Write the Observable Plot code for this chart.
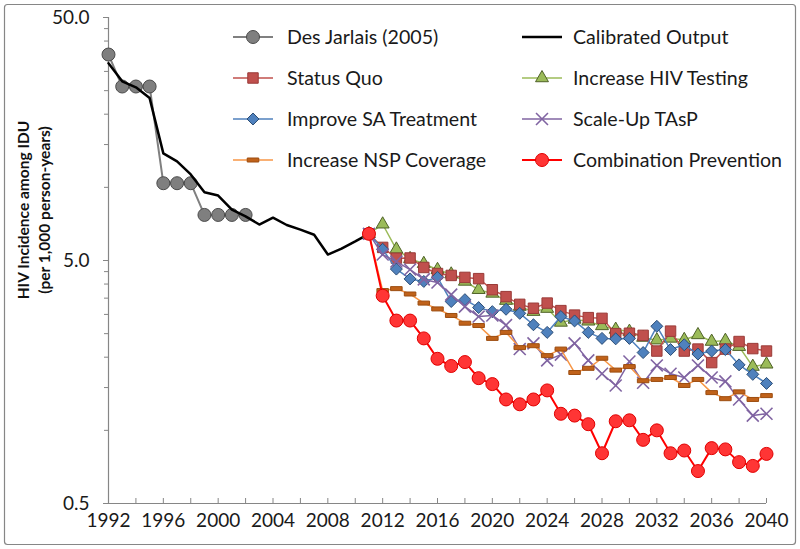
<!DOCTYPE html>
<html><head><meta charset="utf-8">
<script src="https://cdn.jsdelivr.net/npm/d3@7"></script>
<script src="https://cdn.jsdelivr.net/npm/@observablehq/plot@0.6"></script>
<style>
html,body{margin:0;padding:0;background:#fff;}
#chart{width:800px;height:549px;}
</style></head><body><div id="chart"></div>
<script>
// ---------- data ----------
const desJarlaisYears = [1992,1993,1994,1995,1996,1997,1998,1999,2000,2001,2002];
const desJarlais = [35.2,26.0,26.0,26.0,10.4,10.4,10.4,7.7,7.7,7.7,7.7];

const calibratedYears = [1992,1993,1994,1995,1996,1997,1998,1999,2000,2001,2002,2003,2004,2005,2006,2007,2008,2009,2010,2011];
const calibrated = [32.4,27.3,25.8,23.3,13.8,12.8,11.3,9.55,9.25,8.1,7.6,7.03,7.5,7.0,6.7,6.38,5.29,5.6,5.99,6.44];

const scenarioYears = [2011,2012,2013,2014,2015,2016,2017,2018,2019,2020,2021,2022,2023,2024,2025,2026,2027,2028,2029,2030,2031,2032,2033,2034,2035,2036,2037,2038,2039,2040];
const statusQuo   = [6.44,5.66,5.11,5.12,4.68,4.42,4.34,4.26,4.21,3.79,3.55,3.30,3.18,3.34,3.11,2.98,2.91,2.89,2.50,2.51,2.46,2.12,2.56,2.12,2.16,1.90,2.16,2.32,2.17,2.12];
const hivTesting  = [6.44,7.05,5.56,5.08,4.85,4.58,4.39,4.10,3.79,3.66,3.42,3.23,3.08,3.17,2.78,2.86,2.81,2.69,2.60,2.55,2.41,2.35,2.39,2.36,2.47,2.32,2.34,2.21,1.83,1.87];
const improveSA   = [6.44,5.56,4.61,4.20,4.10,4.26,3.39,3.45,3.20,3.08,3.15,3.03,2.72,2.53,2.94,2.82,2.53,2.39,2.38,2.39,2.09,2.68,2.15,2.25,2.06,2.12,2.15,1.86,1.70,1.56];
const scaleUpTAsP = [6.44,5.29,4.95,4.59,4.18,4.06,3.62,3.23,2.94,2.97,2.71,2.16,2.28,1.94,2.05,2.28,1.94,1.71,1.53,1.92,1.57,1.85,1.71,1.65,1.85,1.65,1.59,1.34,1.15,1.17];
const nspCoverage = [6.44,3.76,3.83,3.64,3.34,3.16,2.97,2.76,2.70,2.39,2.53,2.19,2.23,2.03,2.16,1.73,1.80,1.98,1.77,1.83,1.60,1.62,1.65,1.53,1.62,1.43,1.35,1.44,1.34,1.39];
const combination = [6.44,3.58,2.83,2.83,2.39,1.97,1.84,1.91,1.64,1.55,1.34,1.28,1.34,1.46,1.17,1.15,1.06,0.805,1.09,1.10,0.914,1.0,0.805,0.826,0.68,0.845,0.835,0.74,0.714,0.80];

const yMajorTicks = [0.5, 5, 50];
const yMinorTicks = [1,1.5,2,2.5,3,3.5,4,4.5,10,15,20,25,30,35,40,45];
const xLabelTicks = [1992,1996,2000,2004,2008,2012,2016,2020,2024,2028,2032,2036,2040];
const xTickMarks = [1992,1994,1996,1998,2000,2002,2004,2006,2008,2010,2012,2014,2016,2018,2020,2022,2024,2026,2028,2030,2032,2034,2036,2038,2040];

const legendNames = ["Des Jarlais (2005)","Calibrated Output","Status Quo","Increase HIV Testing","Improve SA Treatment","Scale-Up TAsP","Increase NSP Coverage","Combination Prevention"];

// ---------- styles ----------
const dash = { draw(ctx, size) { const w = Math.sqrt(size) * 1.25, h = 4; ctx.rect(-w/2, -h/2, w, h); } };
const styles = {
  "Des Jarlais (2005)":     {line:"#808080", width:2,   fill:"#7f7f7f", stroke:"#4a4a4a", symbol:d3.symbolCircle,   r:6.5},
  "Calibrated Output":      {line:"#000000", width:2.5},
  "Status Quo":             {line:"#C0504D", width:1.5, fill:"#C0504D", stroke:"#9a3b38", symbol:d3.symbolSquare,   r:5.9},
  "Increase HIV Testing":   {line:"#9BBB59", width:1.5, fill:"#9BBB59", stroke:"#4F6228", symbol:d3.symbolTriangle, r:4.8},
  "Improve SA Treatment":   {line:"#4F81BD", width:1.5, fill:"#4F81BD", stroke:"#2C4D75", symbol:d3.symbolDiamond2, r:5.4},
  "Scale-Up TAsP":          {line:"#8064A2", width:1.5, fill:"none",    stroke:"#8064A2", symbol:d3.symbolTimes,    r:5.5, sw:1.6},
  "Increase NSP Coverage":  {line:"#F79646", width:1.5, fill:"#C0621A", stroke:"#9c4d10", symbol:dash,              r:5.2},
  "Combination Prevention": {line:"#FF0000", width:2,   fill:"#FF3535", stroke:"#E00000", symbol:d3.symbolCircle,   r:6.5}
};

const toRows = (years, vals) => years.map((year, i) => ({year, value: vals[i]}));
const scenarioOrder = [
  ["Increase HIV Testing", hivTesting],
  ["Status Quo", statusQuo],
  ["Improve SA Treatment", improveSA],
  ["Scale-Up TAsP", scaleUpTAsP],
  ["Increase NSP Coverage", nspCoverage],
  ["Combination Prevention", combination]
];

const gray = "#868686";
const font = "Lato, 'Noto Sans', sans-serif";

const marks = [
  Plot.ruleX([1992], {stroke: gray, strokeWidth: 1.2}),
  Plot.ruleY([0.5], {stroke: gray, strokeWidth: 1.2}),
  Plot.axisY(yMinorTicks, {tickSize: 4, tickFormat: () => "", stroke: gray, label: null}),
  Plot.axisY(yMajorTicks, {tickSize: 5, tickPadding: 14, tickFormat: d3.format(".1f"), stroke: gray, fontSize: 19, label: null}),
  Plot.axisX(xTickMarks, {tickSize: 5, dy: -5, tickFormat: () => "", stroke: gray, label: null}),
  Plot.axisX(xLabelTicks, {tickSize: 0, tickPadding: 10, tickFormat: d => String(d), fontSize: 19, label: null}),
];

const dj = toRows(desJarlaisYears, desJarlais);
const djS = styles["Des Jarlais (2005)"];
marks.push(Plot.line(dj, {x: "year", y: "value", stroke: djS.line, strokeWidth: djS.width}));
marks.push(Plot.dot(dj, {x: "year", y: "value", r: djS.r, symbol: djS.symbol, fill: djS.fill, stroke: djS.stroke, strokeWidth: 1}));
marks.push(Plot.line(toRows(calibratedYears, calibrated), {x: "year", y: "value", stroke: "#000", strokeWidth: 2.5}));

for (const [name, vals] of scenarioOrder) {
  const s = styles[name];
  const rows = toRows(scenarioYears, vals);
  marks.push(Plot.line(rows, {x: "year", y: "value", stroke: s.line, strokeWidth: s.width}));
  marks.push(Plot.dot(rows, {x: "year", y: "value", r: s.r, symbol: s.symbol, fill: s.fill, stroke: s.stroke, strokeWidth: s.sw || 1}));
}

const chart = Plot.plot({
  width: 800, height: 549,
  marginLeft: 108, marginRight: 34, marginTop: 17, marginBottom: 46,
  x: {domain: [1992, 2040]},
  y: {type: "log", domain: [0.5, 50]},
  style: {fontFamily: font, fontSize: "19px", color: "#1a1a1a", background: "#fff"},
  marks
});
document.getElementById("chart").appendChild(chart);

// ---------- decorations: border, y title, legend ----------
const svg = d3.select(chart);
svg.append("rect").attr("x", 4.5).attr("y", 4.5).attr("width", 791).attr("height", 540)
  .attr("rx", 3).attr("fill", "none").attr("stroke", gray).attr("stroke-width", 1.2);

const ytitle = svg.append("g").attr("font-family", font).attr("font-weight", "bold").attr("font-size", 15.5).attr("fill", "#111").attr("text-anchor", "middle");
ytitle.append("text").attr("transform", "translate(24,210) rotate(-90)").attr("dy", "0.35em").text("HIV Incidence among IDU");
ytitle.append("text").attr("transform", "translate(45,210) rotate(-90)").attr("dy", "0.35em").text("(per 1,000 person-years)");

const legend = svg.append("g").attr("font-family", font).attr("font-size", 19.6).attr("fill", "#1a1a1a").attr("text-anchor", "start");
const colX = [[233, 273, 287], [522, 562, 573]];
const rowY = [37, 78, 119, 160];
legendNames.forEach((name, i) => {
  const s = styles[name];
  const [x0, x1, tx] = colX[i % 2];
  const y = rowY[Math.floor(i / 2)];
  const g = legend.append("g");
  g.append("line").attr("x1", x0).attr("x2", x1).attr("y1", y).attr("y2", y).attr("stroke", s.line).attr("stroke-width", s.width);
  if (s.symbol) {
    g.append("path").attr("transform", `translate(${(x0 + x1) / 2},${y})`)
      .attr("d", d3.symbol(s.symbol, Math.PI * s.r * s.r)())
      .attr("fill", s.fill).attr("stroke", s.stroke).attr("stroke-width", s.sw || 1);
  }
  g.append("text").attr("x", tx).attr("y", y).attr("dy", "0.35em").attr("text-anchor", "start").text(name);
});
</script></body></html>
